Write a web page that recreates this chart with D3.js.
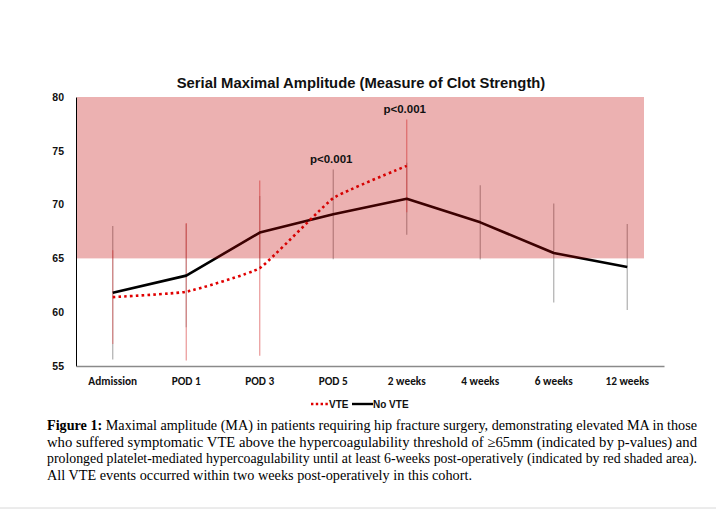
<!DOCTYPE html>
<html><head><meta charset="utf-8">
<script src="https://cdn.jsdelivr.net/npm/d3@7"></script>
<style>body{margin:0;background:#fff}svg{display:block}</style>
</head><body>
<svg id="c" width="716" height="513"></svg>
<script>
const categories = ["Admission","POD 1","POD 3","POD 5","2 weeks","4 weeks","6 weeks","12 weeks"];
const noVte = [61.8, 63.4, 67.4, 69.1, 70.55, 68.35, 65.5, 64.2];
const noVteSd = [6.2, 4.8, 3.4, 4.17, 3.35, 3.45, 4.6, 4.0];
const vte = [61.4, 61.9, 64.1, 70.6, 73.6, null, null, null];
const vteSd = [4.35, 6.4, 8.15, null, 4.3, null, null, null];
const yTicks = [55, 60, 65, 70, 75, 80];
const threshold = [65, 80];
const pLabels = [{cat:"POD 5", v:73.25, text:"p<0.001"},{cat:"2 weeks", v:77.9, text:"p<0.001"}];
const title = "Serial Maximal Amplitude (Measure of Clot Strength)";
const captionLines = [
  "Maximal amplitude (MA) in patients requiring hip fracture surgery, demonstrating elevated MA in those",
  "who suffered symptomatic VTE above the hypercoagulability threshold of \u226565mm (indicated by p-values) and",
  "prolonged platelet-mediated hypercoagulability until at least 6-weeks post-operatively (indicated by red shaded area).",
  "All VTE events occurred within two weeks post-operatively in this cohort."
];

const svg = d3.select("#c");
const x = d3.scaleBand().domain(categories).range([76, 664]);
const y = d3.scaleLinear().domain([55, 80]).range([366, 97]);
const cx = c => x(c) + x.bandwidth()/2;

// title
svg.append("text").attr("x", 361).attr("y", 88).attr("text-anchor","middle")
  .attr("font-family","Liberation Sans, Arial, sans-serif").attr("font-weight","bold")
  .attr("font-size", 14.8).attr("fill","#111").text(title);

// error bars
const g = svg.append("g");
categories.forEach((c,i)=>{
  if (noVteSd[i]!=null) g.append("line").attr("x1",cx(c)).attr("x2",cx(c))
    .attr("y1",y(noVte[i]+noVteSd[i])).attr("y2",y(noVte[i]-noVteSd[i]))
    .attr("stroke","#9a9a9a").attr("stroke-opacity",0.8).attr("stroke-width",1.2);
  if (vte[i]!=null && vteSd[i]!=null) g.append("line").attr("x1",cx(c)).attr("x2",cx(c))
    .attr("y1",y(vte[i]+vteSd[i])).attr("y2",y(vte[i]-vteSd[i]))
    .attr("stroke","#e06a6a").attr("stroke-opacity",0.7).attr("stroke-width",1.2);
});

// lines
const lineNo = d3.line().x((d,i)=>cx(categories[i])).y(d=>y(d));
svg.append("path").attr("d", lineNo(noVte)).attr("fill","none")
  .attr("stroke","#000").attr("stroke-width",2.6).attr("stroke-linejoin","round");
const vteData = vte.map((v,i)=>({c:categories[i], v})).filter(d=>d.v!=null);
const lineV = d3.line().x(d=>cx(d.c)).y(d=>y(d.v)).curve(d3.curveCardinal.tension(0.65));
svg.append("path").attr("d", lineV(vteData)).attr("fill","none")
  .attr("stroke","#e00000").attr("stroke-width",2.6).attr("stroke-dasharray","2.6,3.2");

// shaded region on top
svg.append("rect").attr("x",77).attr("width",644-77)
  .attr("y",y(threshold[1])).attr("height",y(threshold[0])-y(threshold[1]))
  .attr("fill","rgb(194,3,3)").attr("fill-opacity",0.31);

// axes
const yAxis = d3.axisLeft(y).tickValues(yTicks).tickSize(0).tickPadding(12);
const ya = svg.append("g").attr("transform","translate(76,0)").call(yAxis);
ya.select(".domain").attr("stroke","#000").attr("stroke-width",1);
ya.selectAll("text").attr("font-family","Liberation Sans, Arial, sans-serif")
  .attr("font-weight","bold").attr("font-size",10.5).attr("fill","#111");

const xAxis = d3.axisBottom(x).tickSize(0).tickPadding(11);
const xa = svg.append("g").attr("transform","translate(0,366)").call(xAxis);
xa.select(".domain").attr("stroke","#8a8a8a").attr("stroke-width",1.6);
xa.selectAll("text").attr("font-family","Carlito, Calibri, Liberation Sans, sans-serif")
  .attr("font-weight","bold").attr("font-size",11.3).attr("fill","#111");

// p labels
pLabels.forEach(p=>{
  svg.append("text").attr("x",cx(p.cat)-2).attr("y",y(p.v)-7).attr("text-anchor","middle")
    .attr("font-family","Liberation Sans, Arial, sans-serif").attr("font-weight","bold")
    .attr("font-size",11.5).attr("fill","#111").text(p.text);
});

// legend
const lg = svg.append("g").attr("font-family","Liberation Sans, Arial, sans-serif")
  .attr("font-weight","bold").attr("font-size",10).attr("fill","#111");
lg.append("line").attr("x1",311).attr("x2",328).attr("y1",404).attr("y2",404)
  .attr("stroke","#e00000").attr("stroke-width",2.4).attr("stroke-dasharray","2.4,2.4");
lg.append("text").attr("x",329).attr("y",408).text("VTE");
lg.append("line").attr("x1",352).attr("x2",373).attr("y1",404).attr("y2",404)
  .attr("stroke","#000").attr("stroke-width",2.4);
lg.append("text").attr("x",373).attr("y",408).text("No VTE");

// caption
const cap = svg.append("g").attr("font-family","Liberation Serif, Times New Roman, serif")
  .attr("font-size",14).attr("fill","#000");
const capY = [430, 446.5, 463, 479.5];
const capLen = [650, 650, 650, 425];
captionLines.forEach((ln,i)=>{
  const t = cap.append("text").attr("x",47).attr("y",capY[i]);
  if (i===0){
    t.append("tspan").attr("font-weight","bold").text("Figure 1:");
    t.append("tspan").text(" " + ln);
  } else {
    t.text(ln);
  }
  t.attr("textLength",capLen[i]).attr("lengthAdjust","spacingAndGlyphs");
});

// bottom page rule
svg.append("line").attr("x1",0).attr("x2",716).attr("y1",508).attr("y2",508)
  .attr("stroke","#d8d8d8").attr("stroke-width",1);
</script>
</body></html>
